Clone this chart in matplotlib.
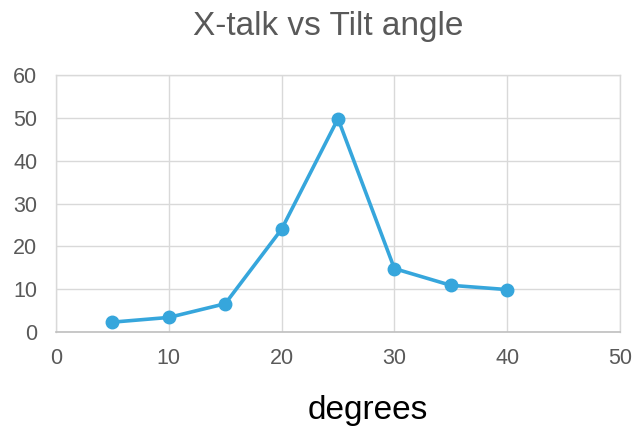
import matplotlib
matplotlib.use("Agg")
import matplotlib.pyplot as plt

angles = [5, 10, 15, 20, 25, 30, 35, 40]
xtalk = [2.3, 3.4, 6.6, 24.0, 49.8, 14.8, 10.9, 9.9]
x_ticks = [0, 10, 20, 30, 40, 50]
y_ticks = [0, 10, 20, 30, 40, 50, 60]

plt.rcParams['font.family'] = ['Liberation Sans', 'DejaVu Sans']

fig = plt.figure(figsize=(6.36, 4.30), dpi=100)
ax = fig.add_axes([56/636, 1-332/430, (620-56)/636, (332-75)/430])

ax.plot(angles, xtalk, color='#36a6dc', linewidth=2.6, marker='o', markersize=9, zorder=3)

ax.set_xlim(0, 50)
ax.set_ylim(0, 60)
ax.set_xticks(x_ticks)
ax.set_yticks(y_ticks)
ax.grid(True, color='#d9d9d9', linewidth=1.0)
ax.set_axisbelow(True)
for s in ['top', 'right', 'left']:
    ax.spines[s].set_color('#d9d9d9')
    ax.spines[s].set_linewidth(1.0)
ax.spines['bottom'].set_color('#bfbfbf')
ax.spines['bottom'].set_linewidth(1.2)
ax.tick_params(length=0, labelsize=15.5, labelcolor='#595959')
ax.tick_params(axis='y', pad=13.5)
ax.tick_params(axis='x', pad=11.5)

fig.text(328/636, 1-27/430, 'X-talk vs Tilt angle', ha='center', va='center', fontsize=24, color='#595959')
fig.text(368/636, 1-410/430, 'degrees', ha='center', va='center', fontsize=24, color='#000000')

fig.savefig('out.png', dpi=100)
